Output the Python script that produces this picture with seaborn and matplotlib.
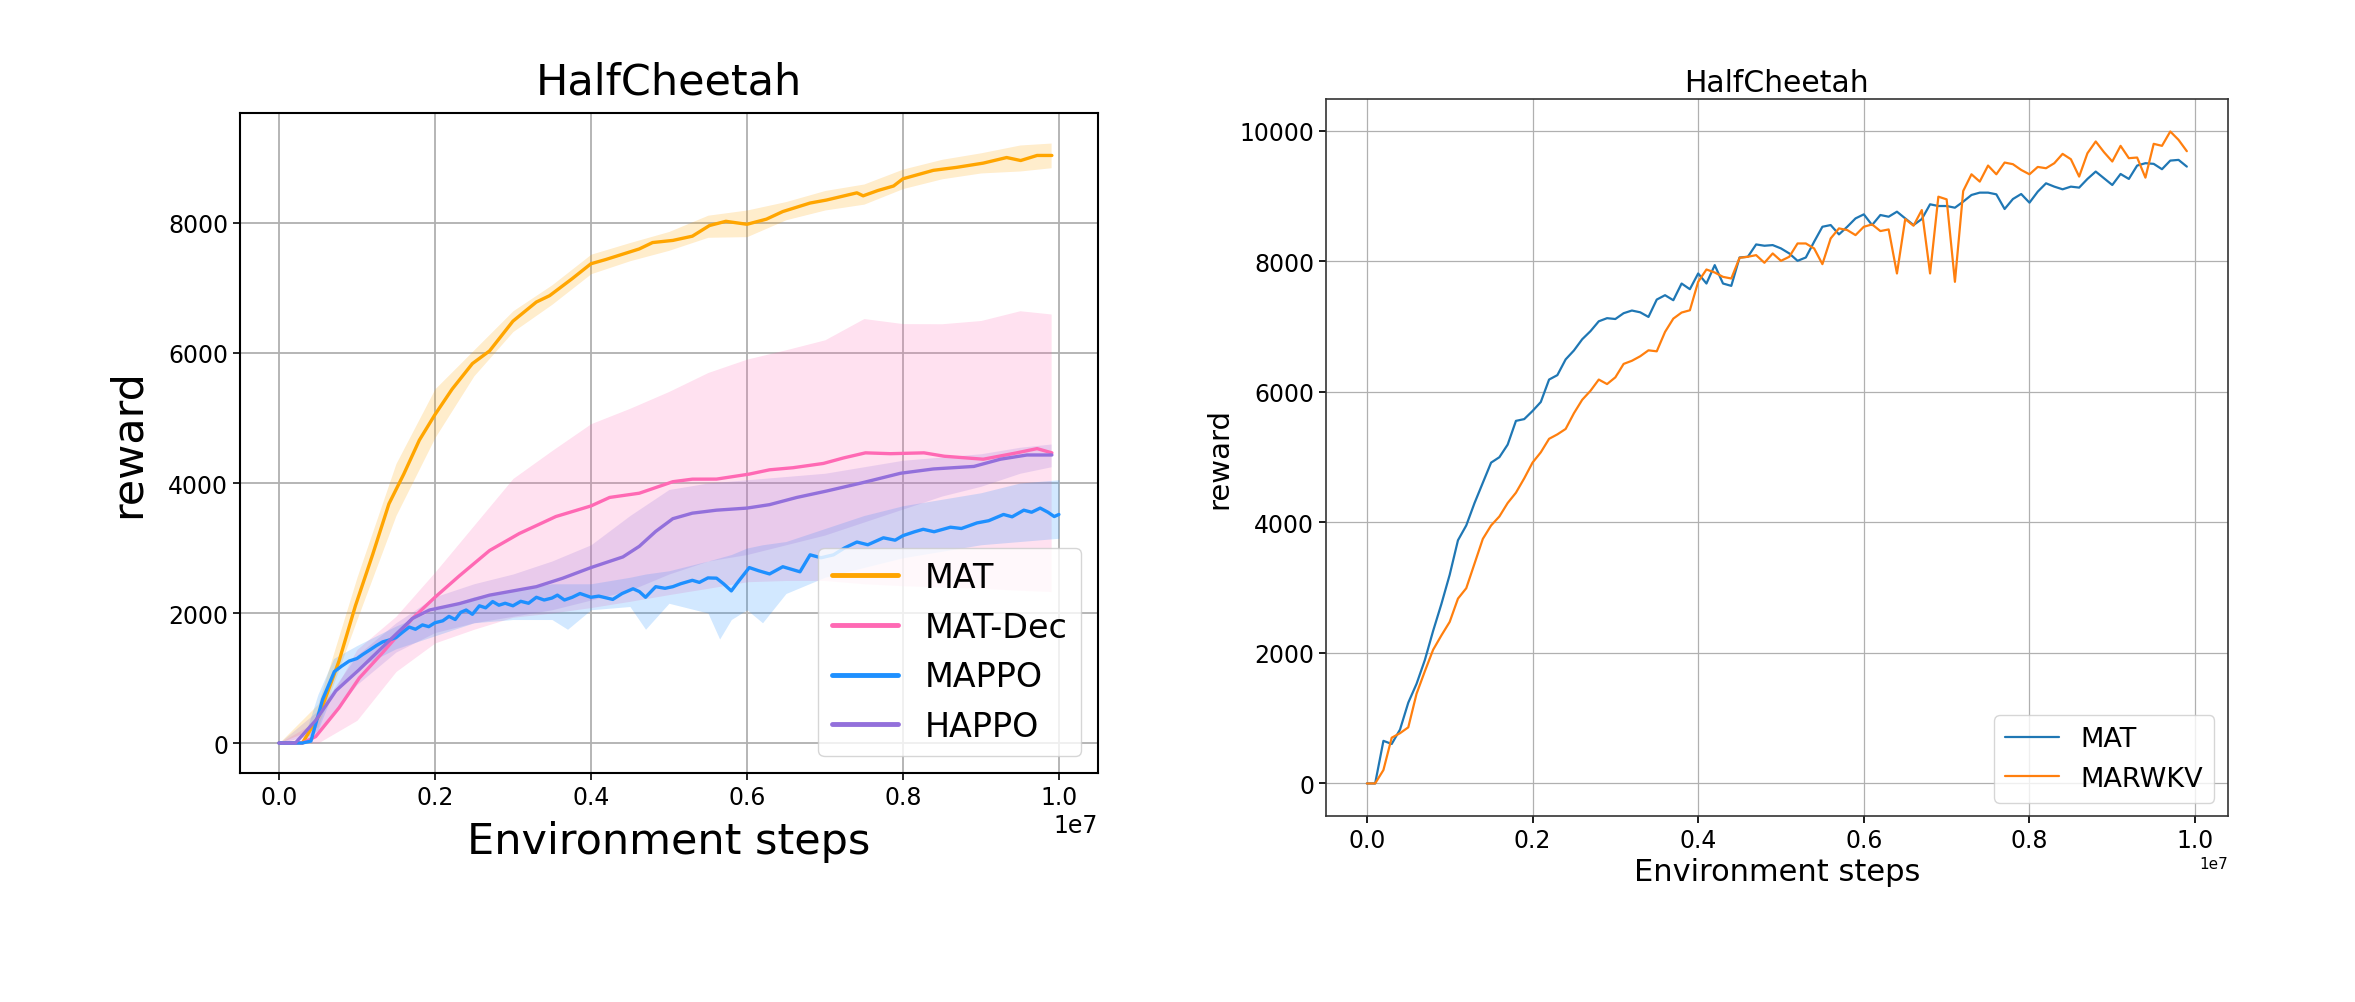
import numpy as np
import pandas as pd
import matplotlib
matplotlib.use("Agg")
import matplotlib.pyplot as plt
import seaborn as sns

# --- Left panel data (steps in units of 1e7) ---
SCALE = 1e7

mat_x = [0.0, 0.03, 0.051, 0.077, 0.098, 0.12, 0.141, 0.16, 0.18, 0.2, 0.222, 0.248,
         0.27, 0.3, 0.33, 0.347, 0.376, 0.4, 0.419, 0.462, 0.479, 0.505, 0.53, 0.552,
         0.573, 0.6, 0.625, 0.646, 0.681, 0.702, 0.741, 0.749, 0.768, 0.788, 0.8, 0.839,
         0.869, 0.903, 0.933, 0.951, 0.972, 0.991]
mat_y = [0, 0, 412, 1261, 2111, 2895, 3680, 4137, 4660, 5052, 5444, 5837,
         6032, 6490, 6784, 6882, 7144, 7373, 7438, 7601, 7699, 7732, 7797, 7961,
         8026, 7980, 8059, 8176, 8307, 8353, 8464, 8418, 8500, 8569, 8680, 8810,
         8856, 8921, 9007, 8961, 9039, 9039]

matdec_x = [0.0, 0.03, 0.047, 0.077, 0.103, 0.133, 0.171, 0.2, 0.231, 0.27, 0.308, 0.355,
            0.4, 0.424, 0.462, 0.505, 0.53, 0.561, 0.603, 0.629, 0.659, 0.698, 0.724,
            0.752, 0.784, 0.827, 0.853, 0.903, 0.946, 0.972, 0.991]
matdec_y = [0, 0, 98, 542, 1000, 1392, 1915, 2242, 2569, 2961, 3222, 3484,
            3647, 3778, 3843, 4020, 4059, 4060, 4137, 4203, 4235, 4301, 4386,
            4464, 4451, 4464, 4412, 4366, 4464, 4529, 4464]

mappo_x = [0.0, 0.03, 0.041, 0.056, 0.071, 0.08, 0.09, 0.1, 0.107, 0.118, 0.125, 0.133,
           0.14, 0.15, 0.158, 0.167, 0.175, 0.184, 0.192, 0.2, 0.21, 0.218, 0.226, 0.233,
           0.24, 0.248, 0.257, 0.265, 0.274, 0.282, 0.29, 0.3, 0.31, 0.32, 0.33, 0.34,
           0.35, 0.357, 0.366, 0.376, 0.386, 0.4, 0.41, 0.428, 0.44, 0.454, 0.462, 0.47,
           0.483, 0.495, 0.505, 0.515, 0.53, 0.539, 0.55, 0.561, 0.57, 0.58, 0.59, 0.603,
           0.615, 0.629, 0.646, 0.655, 0.668, 0.681, 0.695, 0.711, 0.725, 0.741, 0.755,
           0.775, 0.79, 0.8, 0.815, 0.826, 0.84, 0.861, 0.875, 0.895, 0.91, 0.929, 0.94,
           0.955, 0.965, 0.976, 0.986, 0.994, 1.0]
mappo_y = [0, 0, 30, 673, 1098, 1180, 1261, 1300, 1359, 1444, 1500, 1556,
           1580, 1621, 1700, 1784, 1750, 1817, 1790, 1850, 1880, 1948, 1900, 2010,
           2046, 1980, 2111, 2080, 2176, 2120, 2150, 2111, 2180, 2150, 2242, 2200,
           2230, 2275, 2200, 2242, 2300, 2242, 2260, 2209, 2300, 2373, 2330, 2242,
           2405, 2380, 2405, 2450, 2503, 2471, 2540, 2536, 2450, 2340, 2500, 2699,
           2650, 2601, 2712, 2680, 2634, 2895, 2850, 2895, 3000, 3092, 3050,
           3157, 3120, 3190, 3250, 3288, 3250, 3320, 3300, 3386, 3420, 3516, 3480,
           3582, 3550, 3614, 3550, 3484, 3516]

happo_x = [0.0, 0.021, 0.047, 0.073, 0.103, 0.137, 0.171, 0.193, 0.231, 0.27, 0.33, 0.364,
           0.4, 0.441, 0.462, 0.483, 0.505, 0.53, 0.561, 0.6, 0.629, 0.664, 0.702, 0.749,
           0.797, 0.839, 0.891, 0.925, 0.959, 0.991]
happo_y = [0, 0, 346, 804, 1131, 1523, 1915, 2046, 2144, 2275, 2405, 2536,
           2699, 2863, 3026, 3255, 3451, 3536, 3582, 3614, 3667, 3778, 3876, 4007,
           4150, 4216, 4255, 4366, 4431, 4431]

band_x = [0.0, 0.05, 0.1, 0.15, 0.2, 0.25, 0.3, 0.35, 0.4, 0.45, 0.5, 0.55, 0.6,
          0.65, 0.7, 0.75, 0.8, 0.85, 0.9, 0.95, 0.99]
mat_hi = [0, 600, 2550, 4300, 5450, 6050, 6650, 7050, 7520, 7700, 7870, 8120, 8200,
          8330, 8500, 8600, 8830, 8980, 9080, 9200, 9230]
mat_lo = [0, 250, 1900, 3500, 4700, 5650, 6330, 6750, 7220, 7420, 7580, 7780, 7790,
          8050, 8200, 8290, 8530, 8680, 8770, 8800, 8850]
matdec_hi = [0, 350, 1440, 1950, 2630, 3350, 4070, 4500, 4913, 5150, 5409, 5700, 5906,
             6050, 6203, 6530, 6452, 6450, 6500, 6650, 6600]
matdec_lo = [0, 0, 350, 1100, 1540, 1750, 1935, 2000, 2084, 2180, 2283, 2380, 2481,
             2500, 2500, 2450, 2420, 2400, 2380, 2350, 2330]
happo_hi = [0, 500, 1350, 1850, 2250, 2450, 2600, 2800, 3050, 3500, 3900, 4000, 4050,
            4100, 4150, 4250, 4350, 4400, 4450, 4550, 4600]
happo_lo = [0, 150, 900, 1400, 1700, 1850, 1950, 2050, 2200, 2350, 2600, 2800, 2900,
            3050, 3200, 3400, 3600, 3800, 3950, 4150, 4250]

mappo_band_x = [0.0, 0.03, 0.05, 0.07, 0.1, 0.15, 0.2, 0.25, 0.3, 0.35, 0.37, 0.4, 0.45,
                0.47, 0.5, 0.55, 0.565, 0.58, 0.6, 0.62, 0.65, 0.7, 0.75, 0.8, 0.85,
                0.9, 0.95, 1.0]
mappo_hi = [0, 0, 750, 1300, 1500, 1800, 2050, 2250, 2350, 2450, 2450, 2450, 2550,
            2600, 2650, 2800, 2850, 2900, 3000, 3050, 3100, 3300, 3500, 3650, 3750,
            3850, 4000, 4050]
mappo_lo = [0, 0, 200, 800, 1150, 1450, 1650, 1850, 1900, 1900, 1750, 2050, 2100,
            1750, 2150, 2000, 1600, 1900, 2050, 1850, 2300, 2550, 2700, 2850, 2950,
            3050, 3100, 3150]

# --- Right panel data (one point every 1e5 steps) ---
rwkv_mat = [0, 0, 653, 605, 825, 1238, 1527, 1891, 2338, 2751,
            3198, 3727, 3954, 4298, 4608, 4917, 5000, 5193, 5557, 5584,
            5708, 5846, 6190, 6258, 6499, 6636, 6808, 6932, 7083, 7131,
            7118, 7207, 7248, 7221, 7150, 7416, 7483, 7406, 7662, 7575,
            7816, 7662, 7944, 7662, 7626, 8061, 8072, 8261, 8241, 8251,
            8200, 8123, 8010, 8061, 8302, 8532, 8558, 8415, 8532, 8660,
            8722, 8558, 8712, 8686, 8763, 8660, 8558, 8650, 8876, 8850,
            8850, 8824, 8917, 9019, 9055, 9055, 9029, 8804, 8957, 9034,
            8901, 9070, 9198, 9147, 9106, 9147, 9132, 9265, 9378, 9275,
            9172, 9341, 9265, 9470, 9506, 9496, 9414, 9546, 9557, 9454]
rwkv_marwkv = [0, 0, 206, 701, 770, 860, 1375, 1719, 2049, 2269,
               2476, 2833, 2992, 3370, 3748, 3954, 4092, 4298, 4456, 4676,
               4917, 5075, 5282, 5350, 5433, 5674, 5880, 6018, 6190, 6121,
               6224, 6430, 6478, 6547, 6638, 6623, 6920, 7124, 7217, 7252,
               7688, 7877, 7831, 7764, 7739, 8056, 8072, 8097, 7980, 8123,
               8010, 8072, 8276, 8276, 8200, 7959, 8353, 8507, 8481, 8404,
               8532, 8568, 8466, 8491, 7816, 8650, 8548, 8788, 7816, 8993,
               8952, 7688, 9080, 9336, 9224, 9470, 9336, 9516, 9491, 9403,
               9336, 9449, 9429, 9506, 9649, 9567, 9301, 9659, 9839, 9675,
               9532, 9772, 9583, 9593, 9285, 9803, 9772, 9992, 9864, 9690]
rwkv_steps = np.arange(len(rwkv_mat)) * 1e5

sns.set_theme(style="ticks")
plt.rcParams["font.family"] = ["DejaVu Sans"]
plt.rcParams.update({
    "text.color": "black",
    "axes.labelcolor": "black",
    "xtick.color": "black",
    "ytick.color": "black",
})

fig = plt.figure(figsize=(23.55, 10.03), dpi=100)
ax_l = fig.add_axes([0.1019, 0.2283, 0.3643, 0.658])
ax_r = fig.add_axes([0.563, 0.1854, 0.383, 0.715])

# --- Left: HalfCheetah with four baselines ---
left_series = [
    ("MAT", "#FFA500", mat_x, mat_y, band_x, mat_lo, mat_hi),
    ("MAT-Dec", "#FF69B4", matdec_x, matdec_y, band_x, matdec_lo, matdec_hi),
    ("MAPPO", "#1E90FF", mappo_x, mappo_y, mappo_band_x, mappo_lo, mappo_hi),
    ("HAPPO", "#9370DB", happo_x, happo_y, band_x, happo_lo, happo_hi),
]
for name, col, xs, ys, bx, lo, hi in left_series:
    bx = np.array(bx) * SCALE
    ax_l.fill_between(bx, lo, hi, color=col, alpha=0.2, lw=0)
for name, col, xs, ys, bx, lo, hi in left_series:
    sns.lineplot(x=np.array(xs) * SCALE, y=ys, ax=ax_l, color=col, lw=2.4, label=name)

ax_l.grid(True, color="#b0b0b0", lw=1.3)
ax_l.set_title("HalfCheetah", fontsize=31, pad=14)
ax_l.set_xlabel("Environment steps", fontsize=31, labelpad=8)
ax_l.set_ylabel("reward", fontsize=31, labelpad=14)
ax_l.set_yticks([0, 2000, 4000, 6000, 8000])
ax_l.tick_params(labelsize=17, length=5, width=1.2)
ax_l.xaxis.get_offset_text().set_fontsize(17)
for s in ax_l.spines.values():
    s.set_color("black")
    s.set_linewidth(1.5)
leg = ax_l.legend(loc="lower right", fontsize=24, framealpha=0.8, fancybox=True)
for h in leg.get_lines():
    h.set_linewidth(3.5)

# --- Right: MAT vs MARWKV ---
sns.lineplot(x=rwkv_steps, y=rwkv_mat, ax=ax_r, color="tab:blue", lw=1.6, label="MAT")
sns.lineplot(x=rwkv_steps, y=rwkv_marwkv, ax=ax_r, color="tab:orange", lw=1.6, label="MARWKV")
ax_r.grid(True, color="#b0b0b0", lw=0.9)
ax_r.set_title("HalfCheetah", fontsize=21.5)
ax_r.set_xlabel("Environment steps", fontsize=22)
ax_r.set_ylabel("reward", fontsize=21)
ax_r.tick_params(labelsize=17, length=5)
ax_r.xaxis.get_offset_text().set_fontsize(11)
for s in ax_r.spines.values():
    s.set_color("#333333")
    s.set_linewidth(1.2)
ax_r.legend(loc="lower right", fontsize=19.5, framealpha=0.8)

fig.savefig("out.png", dpi=100, facecolor="white")
